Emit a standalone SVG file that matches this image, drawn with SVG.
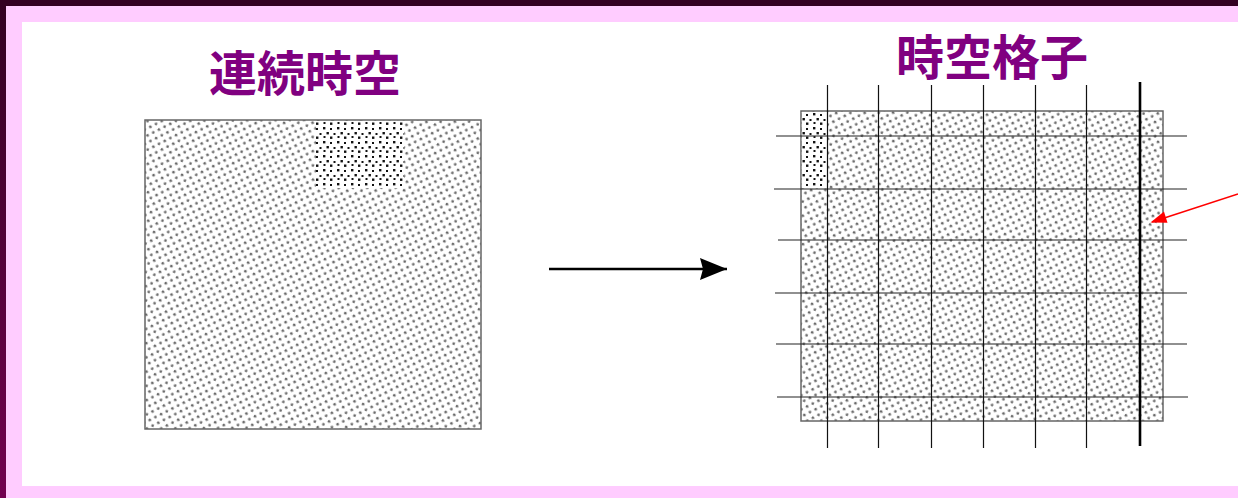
<svg xmlns="http://www.w3.org/2000/svg" width="1238" height="498" viewBox="0 0 1238 498">
  <defs>
    <style>
      .title { font-family: "Noto Sans CJK JP", "Noto Sans CJK TC", sans-serif; font-weight: bold; font-size: 48px; fill: #800080; text-anchor: middle; }
      .frame { stroke: #666666; stroke-width: 1.5; }
      .gline { stroke: #222222; stroke-width: 1.2; }
      .vline { stroke: #111111; stroke-width: 1.2; }
    </style>
    <linearGradient id="leftStrip" x1="0" y1="0" x2="0" y2="1">
      <stop offset="0" stop-color="#330022"/>
      <stop offset="1" stop-color="#720050"/>
    </linearGradient>
    <pattern id="stipple" width="9" height="9" patternUnits="userSpaceOnUse" patternTransform="rotate(18)">
      <rect width="9" height="9" fill="#ffffff"/>
      <circle cx="2.2" cy="2.2" r="1.35" fill="#444444" opacity="0.8"/>
      <circle cx="6.7" cy="6.7" r="1.35" fill="#444444" opacity="0.8"/>
    </pattern>
    <pattern id="dense" width="14" height="14" patternUnits="userSpaceOnUse">
      <rect width="14" height="14" fill="#ffffff"/>
      <rect x="1" y="1" width="2.4" height="2.4" fill="#111111"/>
      <rect x="8" y="2" width="2" height="2" fill="#111111"/>
      <rect x="4.5" y="6" width="2.4" height="2.4" fill="#111111"/>
      <rect x="11.5" y="7" width="2" height="2" fill="#111111"/>
      <rect x="1.5" y="10" width="2" height="2" fill="#111111"/>
      <rect x="8" y="10.5" width="2.4" height="2.4" fill="#111111"/>
    </pattern>
    <marker id="blackHead" viewBox="0 0 27 22" refX="27" refY="11" markerWidth="27" markerHeight="22" markerUnits="userSpaceOnUse" orient="auto">
      <path d="M0,0 L27,11 L0,22 L3,11 Z" fill="#000000"/>
    </marker>
  </defs>

  <!-- background frame -->
  <rect x="0" y="0" width="1238" height="498" fill="#ffffff"/>
  <rect x="0" y="0" width="1238" height="22" fill="#ffccff"/>
  <rect x="0" y="0" width="22" height="498" fill="#ffccff"/>
  <rect x="0" y="486" width="1238" height="12" fill="#ffccff"/>
  <rect x="0" y="0" width="1238" height="6" fill="#330022"/>
  <rect x="0" y="0" width="6" height="498" fill="url(#leftStrip)"/>

  <g id="continuum">
    <text class="title" x="305" y="91">連続時空</text>
    <rect x="145" y="120" width="336" height="309" fill="url(#stipple)" class="frame"/>
    <rect x="316" y="121" width="88" height="67" fill="url(#dense)"/>
  </g>

  <g id="lattice">
    <text class="title" x="992" y="75">時空格子</text>
    <rect x="801" y="111" width="362" height="310" fill="url(#stipple)" class="frame"/>
    <rect x="801.8" y="112" width="25.5" height="76" fill="url(#dense)"/>
    <g id="h-lines">
      <line class="gline" x1="776" y1="136" x2="1187" y2="136"/>
      <line class="gline" x1="774" y1="189" x2="1187" y2="189"/>
      <line class="gline" x1="778" y1="240" x2="1187" y2="240"/>
      <line class="gline" x1="775" y1="293" x2="1187" y2="293"/>
      <line class="gline" x1="776" y1="344" x2="1187" y2="344"/>
      <line class="gline" x1="777" y1="397" x2="1188" y2="397"/>
    </g>
    <g id="v-lines">
      <line class="vline" x1="827.5" y1="85" x2="827.5" y2="448"/>
      <line class="vline" x1="878.5" y1="85" x2="878.5" y2="448"/>
      <line class="vline" x1="931.5" y1="85" x2="931.5" y2="448"/>
      <line class="vline" x1="983.5" y1="85" x2="983.5" y2="448"/>
      <line class="vline" x1="1035.5" y1="85" x2="1035.5" y2="448"/>
      <line class="vline" x1="1086.5" y1="85" x2="1086.5" y2="448"/>
      <line x1="1140" y1="82" x2="1140" y2="446" stroke="#000000" stroke-width="2.6"/>
    </g>
  </g>

  <g id="connectors">
    <line x1="549" y1="269" x2="727" y2="269" stroke="#000000" stroke-width="2.5" marker-end="url(#blackHead)"/>
    <line x1="1238" y1="194" x2="1152" y2="222" stroke="#ff0000" stroke-width="1.6"/>
    <path d="M1150.5,222.5 L1164,211.5 L1167.5,222.8 Z" fill="#ff0000"/>
  </g>
</svg>
